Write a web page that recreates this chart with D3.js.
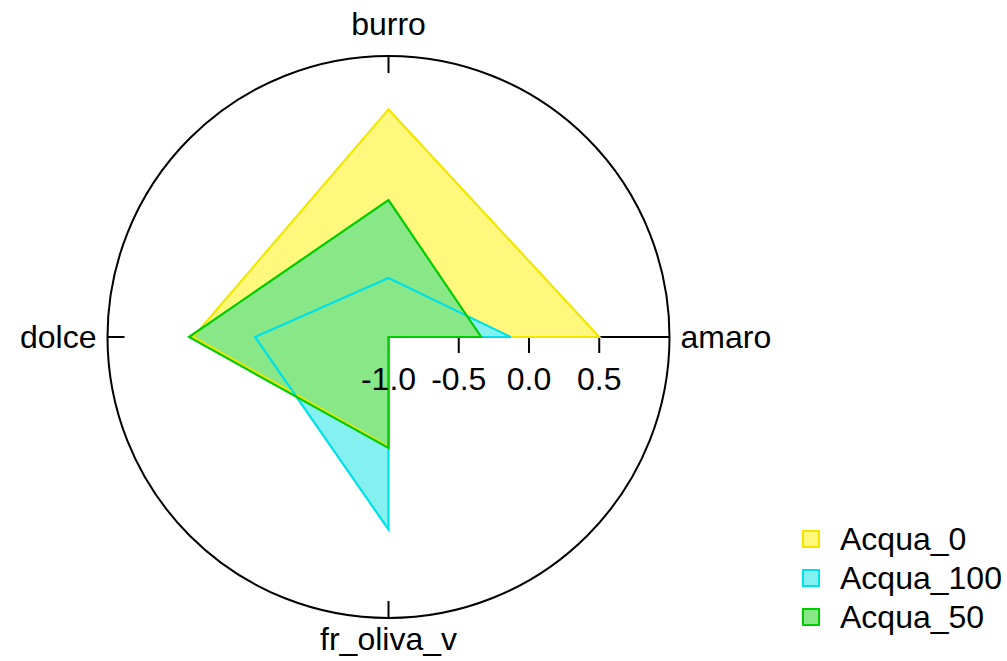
<!DOCTYPE html>
<html><head><meta charset="utf-8">
<script src="https://cdn.jsdelivr.net/npm/d3@7"></script>
<style>body{margin:0;background:#fff}svg{display:block}text{font-family:"Liberation Sans",Arial,sans-serif}</style>
</head><body><svg id="c" width="1007" height="661"></svg>
<script>
const categories = ["amaro","burro","dolce","fr_oliva_v"];
const seriesNames = ["Acqua_0","Acqua_100","Acqua_50"];
const acqua0 = [0.50, 0.62, 0.39, -0.22];
const acqua100 = [-0.13, -0.58, -0.05, 0.37];
const acqua50 = [-0.34, -0.025, 0.42, -0.21];
const radialTicks = [-1.0, -0.5, 0.0, 0.5];
const strokeColors = ["#f2e600","#00e0e6","#00cc00"];
const fillColors = ["#fff87c","#84f0f0","#88e888"];

const svg = d3.select("#c");
const cx = 388.5, cy = 337, R = 281;
const r = d3.scaleLinear().domain([-1,1]).range([0,R]);
const ang = d3.scaleOrdinal().domain(categories).range([0, Math.PI/2, Math.PI, 3*Math.PI/2]);
const g = svg.append("g").attr("transform",`translate(${cx},${cy})`);
const pt = (c,v)=>[r(v)*Math.cos(ang(c)), -r(v)*Math.sin(ang(c))];

// radial axis line
g.append("line").attr("x1",0).attr("y1",0).attr("x2",R).attr("y2",0).attr("stroke","#000").attr("stroke-width",2);
g.selectAll(".rt").data(radialTicks).enter().append("line")
  .attr("x1",d=>r(d)).attr("x2",d=>r(d)).attr("y1",0).attr("y2",16).attr("stroke","#000").attr("stroke-width",2);

const data = [acqua0, acqua100, acqua50];
const line = d3.line();
// path: each category in turn, then back through the pole (r = -1)
const polys = data.map(vals=>categories.map((c,i)=>pt(c,vals[i])).concat([[r(-1),0]]));
g.selectAll(".fill").data(polys).enter().append("path")
  .attr("d",d=>line(d)+"Z").attr("fill",(d,i)=>fillColors[i]).attr("stroke","none");
g.selectAll(".edge").data(polys).enter().append("path")
  .attr("d",d=>line(d)+"Z").attr("fill","none").attr("stroke",(d,i)=>strokeColors[i]).attr("stroke-width",2.2).attr("stroke-linejoin","miter");

g.selectAll(".rl").data(radialTicks).enter().append("text")
  .attr("x",d=>r(d)).attr("y",53).attr("text-anchor","middle").attr("font-size",32)
  .text(d=>d3.format(".1f")(d).replace("−","-"));

// outer circle
g.append("circle").attr("r",R).attr("fill","none").attr("stroke","#000").attr("stroke-width",2);
// angular ticks
g.selectAll(".at").data(categories).enter().append("line")
  .attr("x1",c=>R*Math.cos(ang(c))).attr("y1",c=>-R*Math.sin(ang(c)))
  .attr("x2",c=>(R-17)*Math.cos(ang(c))).attr("y2",c=>-(R-17)*Math.sin(ang(c)))
  .attr("stroke","#000").attr("stroke-width",2);
// category labels
const labPos = {amaro:{x:R+11,y:11,a:"start"}, burro:{x:0,y:-R-21,a:"middle"}, dolce:{x:-R-11,y:11,a:"end"}, fr_oliva_v:{x:0,y:R+32,a:"middle"}};
g.selectAll(".cl").data(categories).enter().append("text")
  .attr("x",c=>labPos[c].x).attr("y",c=>labPos[c].y).attr("text-anchor",c=>labPos[c].a)
  .attr("font-size",32).text(c=>c);

// legend
const lg = svg.append("g");
const ly = d3.scalePoint().domain(seriesNames).range([539,617]);
lg.selectAll("rect").data(seriesNames).enter().append("rect")
  .attr("x",803).attr("y",d=>ly(d)-8).attr("width",16).attr("height",16)
  .attr("fill",(d,i)=>fillColors[i]).attr("stroke",(d,i)=>strokeColors[i]).attr("stroke-width",2);
lg.selectAll("text").data(seriesNames).enter().append("text")
  .attr("x",840).attr("y",d=>ly(d)+11).attr("font-size",32).text(d=>d);
</script></body></html>
